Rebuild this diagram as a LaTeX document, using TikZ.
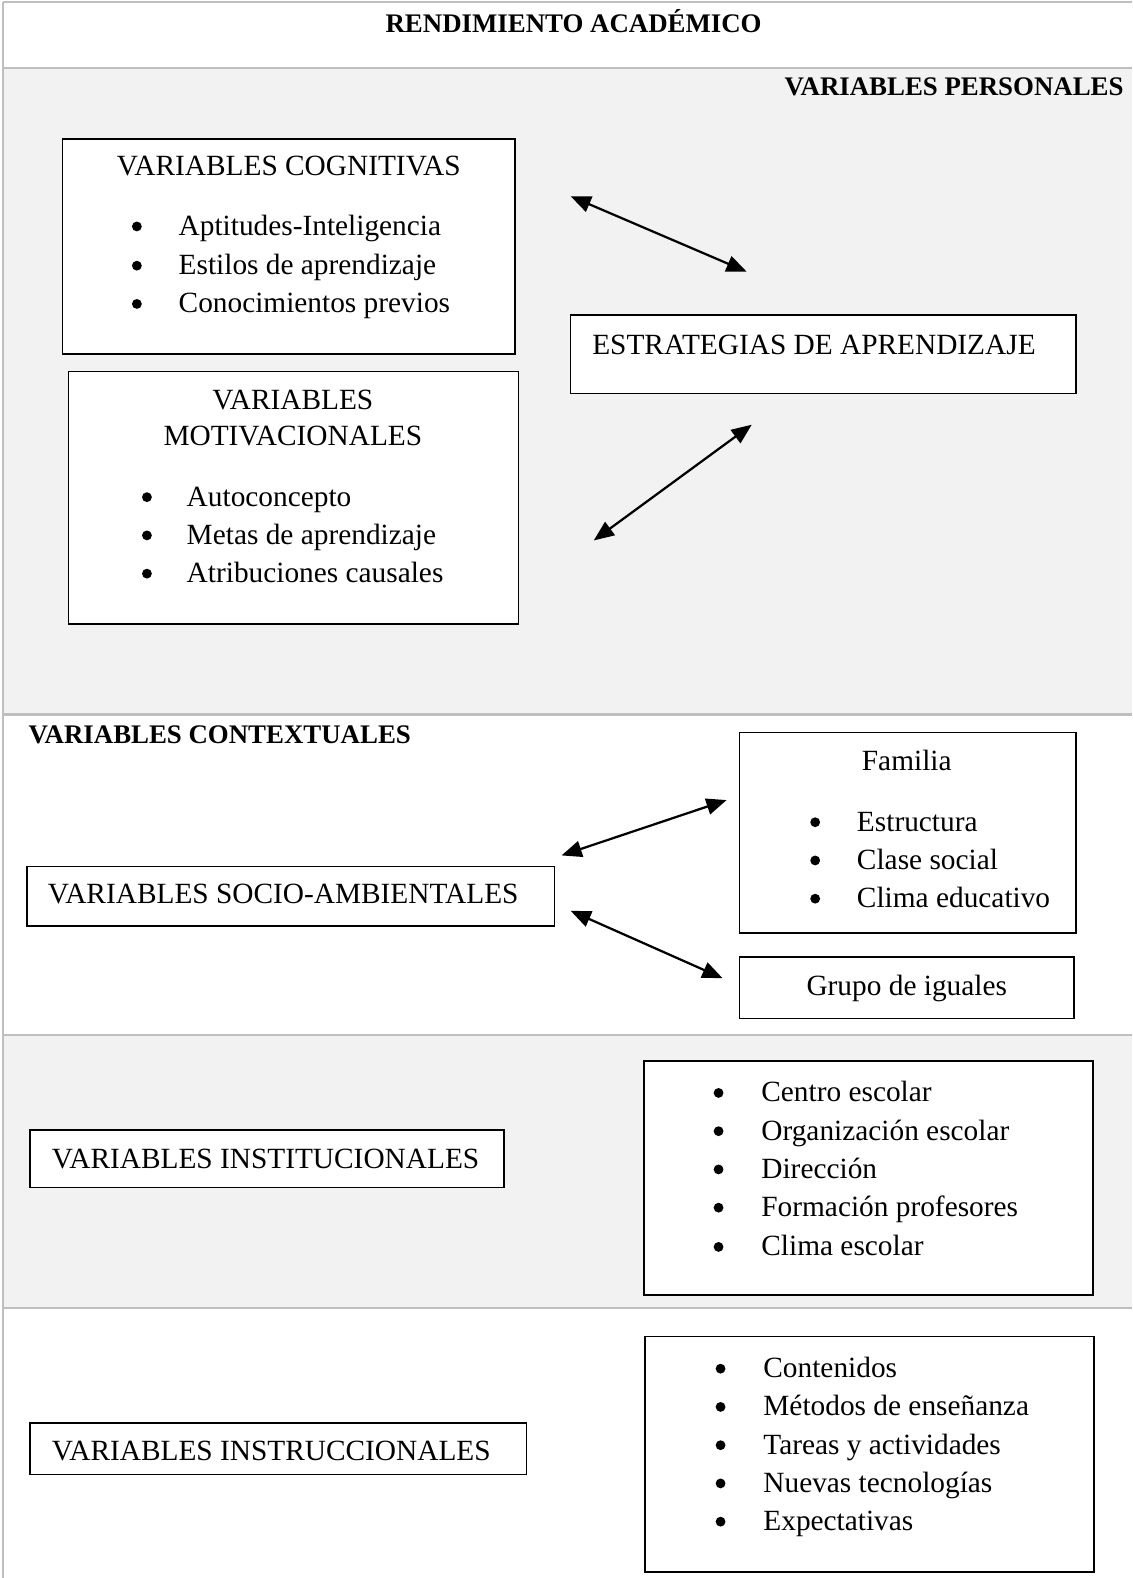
\documentclass[tikz,border=0pt]{standalone}
\usepackage{fontspec}
\setmainfont{Liberation Serif}
\usetikzlibrary{arrows.meta,fit}
\definecolor{bandgray}{HTML}{F2F2F2}
\definecolor{rulegray}{HTML}{BFBFBF}
\begin{document}
\begin{tikzpicture}[x=0.3584pt,y=-0.3584pt,
  txt/.style={inner sep=0pt, font=\fontsize{10.45}{13.8}\selectfont},
  head/.style={inner sep=0pt, font=\fontsize{9.56}{11}\selectfont\bfseries},
  dot/.style={circle, fill=black, inner sep=0pt, minimum size=3.5pt},
  box/.style={draw=black, line width=0.55pt, fill=white, inner sep=0pt},
  twoway/.style={{Triangle[length=7.2pt,width=5.8pt]}-{Triangle[length=7.2pt,width=5.8pt]}, line width=0.8pt},
  rule/.style={draw=rulegray, line width=0.75pt}]
\useasboundingbox (0,0) rectangle (1125,1568);

% shaded bands of the table
\fill[bandgray] (3,68) rectangle (1125,710);
\fill[bandgray] (3,1028) rectangle (1125,1300);
% table rules
\draw[rule] (3,2) -- (1125,2);
\draw[rule] (3,68) -- (1125,68);
\draw[rule] (3,710) -- (1125,710);
\draw[rule] (3,1028) -- (1125,1028);
\draw[rule] (3,1300) -- (1125,1300);
\draw[rule] (3,2) -- (3,1568);

% section headings
\node[head, anchor=base] (title) at (570,32) {RENDIMIENTO ACADÉMICO};
\node[head, anchor=base east] (personales) at (1117,95) {VARIABLES PERSONALES};
\node[head, anchor=base west] (contextuales) at (28,739) {VARIABLES CONTEXTUALES};

% ---- personal variables ----
\node[box, fit={(62,138) (512,352)}] (cog) {};
\node[txt, anchor=base] (cogT) at (287,174) {VARIABLES COGNITIVAS};
\node[dot] (cogB1) at (136,225) {};
\node[txt, anchor=base west] (cog1) at (177,234) {Aptitudes-Inteligencia};
\node[dot] (cogB2) at (136,264) {};
\node[txt, anchor=base west] (cog2) at (177,273) {Estilos de aprendizaje};
\node[dot] (cogB3) at (136,302) {};
\node[txt, anchor=base west] (cog3) at (177,311) {Conocimientos previos};

\node[box, fit={(68,369) (515,620)}] (mot) {};
\node[txt, anchor=base] (motT1) at (291,407) {VARIABLES};
\node[txt, anchor=base] (motT2) at (291,443) {MOTIVACIONALES};
\node[dot] (motB1) at (146,494) {};
\node[txt, anchor=base west] (mot1) at (185,503) {Autoconcepto};
\node[dot] (motB2) at (146,532) {};
\node[txt, anchor=base west] (mot2) at (185,541) {Metas de aprendizaje};
\node[dot] (motB3) at (146,570) {};
\node[txt, anchor=base west] (mot3) at (185,579) {Atribuciones causales};

\node[box, fit={(567,313) (1069,391)}] (estr) {};
\node[txt, anchor=base west] (estrT) at (588,352) {ESTRATEGIAS DE APRENDIZAJE};

\coordinate (a1s) at (567,195);
\coordinate (a1e) at (742,270);
\coordinate (a2s) at (747,422);
\coordinate (a2e) at (590,537);
\draw[twoway] (a1s) -- (a1e);
\draw[twoway] (a2s) -- (a2e);

% ---- contextual variables ----
\node[box, fit={(27,861) (551,920)}] (socio) {};
\node[txt, anchor=base west] (socioT) at (47,898) {VARIABLES SOCIO-AMBIENTALES};

\node[box, fit={(735,728) (1069,927)}] (fam) {};
\node[txt, anchor=base] (famT) at (901,766) {Familia};
\node[dot] (famB1) at (810,817) {};
\node[txt, anchor=base west] (fam1) at (851,826) {Estructura};
\node[dot] (famB2) at (810,855) {};
\node[txt, anchor=base west] (fam2) at (851,864) {Clase social};
\node[dot] (famB3) at (810,893) {};
\node[txt, anchor=base west] (fam3) at (851,902) {Clima educativo};

\node[box, fit={(735,951) (1067,1012)}] (grupo) {};
\node[txt, anchor=base] (grupoT) at (901,989) {Grupo de iguales};

\coordinate (a3s) at (558,850);
\coordinate (a3e) at (722,795);
\coordinate (a4s) at (567,905);
\coordinate (a4e) at (718,972);
\draw[twoway] (a3s) -- (a3e);
\draw[twoway] (a4s) -- (a4e);

% ---- institutional variables ----
\node[box, fit={(30,1123) (501,1180)}] (inst) {};
\node[txt, anchor=base west] (instT) at (51,1161) {VARIABLES INSTITUCIONALES};

\node[box, fit={(640,1054) (1086,1287)}] (instL) {};
\node[dot] (instB1) at (714,1086) {};
\node[txt, anchor=base west] (inst1) at (756,1095) {Centro escolar};
\node[dot] (instB2) at (714,1124) {};
\node[txt, anchor=base west] (inst2) at (756,1133) {Organización escolar};
\node[dot] (instB3) at (714,1162) {};
\node[txt, anchor=base west] (inst3) at (756,1171) {Dirección};
\node[dot] (instB4) at (714,1200) {};
\node[txt, anchor=base west] (inst4) at (756,1209) {Formación profesores};
\node[dot] (instB5) at (714,1239) {};
\node[txt, anchor=base west] (inst5) at (756,1248) {Clima escolar};

% ---- instructional variables ----
\node[box, fit={(30,1414) (523,1465)}] (instr) {};
\node[txt, anchor=base west] (instrT) at (51,1451) {VARIABLES INSTRUCCIONALES};

\node[box, fit={(641,1328) (1087,1562)}] (instrL) {};
\node[dot] (instrB1) at (716,1360) {};
\node[txt, anchor=base west] (instr1) at (758,1369) {Contenidos};
\node[dot] (instrB2) at (716,1398) {};
\node[txt, anchor=base west] (instr2) at (758,1407) {Métodos de enseñanza};
\node[dot] (instrB3) at (716,1436) {};
\node[txt, anchor=base west] (instr3) at (758,1445) {Tareas y actividades};
\node[dot] (instrB4) at (716,1474) {};
\node[txt, anchor=base west] (instr4) at (758,1483) {Nuevas tecnologías};
\node[dot] (instrB5) at (716,1512) {};
\node[txt, anchor=base west] (instr5) at (758,1521) {Expectativas};
\end{tikzpicture}
\end{document}
